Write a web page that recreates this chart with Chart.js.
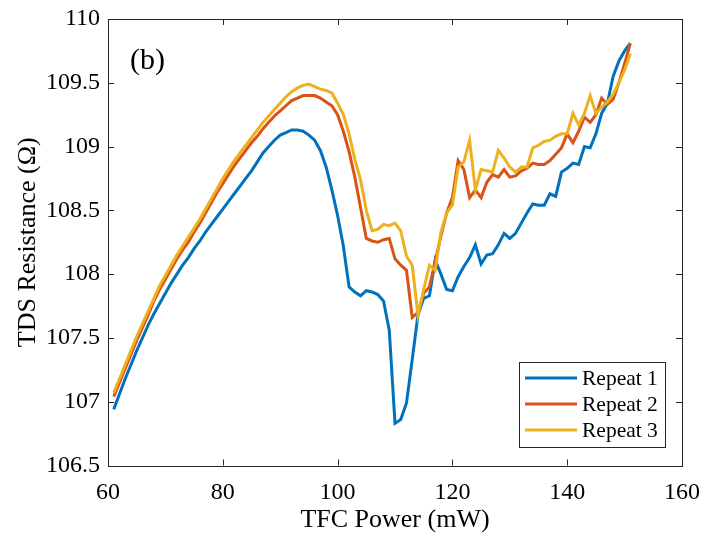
<!DOCTYPE html>
<html>
<head>
<meta charset="utf-8">
<script src="https://cdn.jsdelivr.net/npm/chart.js@4"></script>
<style>
  body { margin: 0; background: #fff; }
  .wrap { width: 702px; height: 533px; }
</style>
</head>
<body>
<div class="wrap"><canvas id="myChart"></canvas></div>
<script>
// TFC power (mW)
const power = [61,62,63,64,65,66,67,68,69,70,71,72,73,74,75,76,77,78,79,80,
  81,82,83,84,85,86,87,88,89,90,91,92,93,94,95,96,97,98,99,100,
  101,102,103,104,105,106,107,108,109,110,111,112,113,114,115,116,117,118,119,120,
  121,122,123,124,125,126,127,128,129,130,131,132,133,134,135,136,137,138,139,140,
  141,142,143,144,145,146,147,148,149,150,151];

// TDS resistance (ohm)
const repeat1 = [106.94,107.06,107.18,107.29,107.40,107.50,107.60,107.69,107.77,107.85,
  107.93,108.00,108.07,108.13,108.20,108.26,108.33,108.39,108.45,108.51,
  108.57,108.63,108.69,108.75,108.81,108.88,108.95,109.00,109.05,109.09,
  109.11,109.13,109.13,109.12,109.09,109.05,108.97,108.84,108.66,108.46,
  108.22,107.90,107.86,107.83,107.87,107.86,107.84,107.79,107.56,106.83,
  106.86,106.99,107.33,107.68,107.81,107.83,108.11,108.00,107.88,107.87,
  107.98,108.06,108.13,108.23,108.08,108.15,108.16,108.23,108.32,108.28,
  108.32,108.40,108.48,108.55,108.54,108.54,108.63,108.61,108.80,108.83,
  108.87,108.86,109.00,108.99,109.10,109.26,109.34,109.55,109.67,109.75,109.81];

const repeat2 = [107.04,107.15,107.26,107.37,107.48,107.58,107.68,107.79,107.88,107.96,
  108.04,108.12,108.19,108.25,108.33,108.40,108.48,108.56,108.64,108.71,
  108.78,108.85,108.91,108.97,109.03,109.08,109.14,109.19,109.24,109.28,
  109.32,109.36,109.38,109.40,109.40,109.40,109.38,109.35,109.32,109.25,
  109.12,108.96,108.76,108.52,108.28,108.26,108.25,108.27,108.28,108.12,
  108.07,108.03,107.66,107.70,107.85,107.90,108.10,108.30,108.48,108.60,
  108.89,108.82,108.60,108.66,108.60,108.72,108.78,108.76,108.82,108.76,
  108.77,108.81,108.83,108.87,108.86,108.86,108.89,108.94,108.99,109.10,
  109.03,109.12,109.23,109.19,109.25,109.38,109.33,109.37,109.50,109.65,109.81];

const repeat3 = [107.07,107.18,107.29,107.40,107.51,107.61,107.71,107.81,107.91,107.99,
  108.07,108.15,108.22,108.29,108.36,108.43,108.51,108.59,108.67,108.75,
  108.82,108.89,108.95,109.01,109.07,109.13,109.19,109.24,109.29,109.34,
  109.39,109.43,109.46,109.48,109.49,109.47,109.45,109.44,109.42,109.34,
  109.25,109.10,108.90,108.74,108.50,108.34,108.35,108.39,108.38,108.40,
  108.34,108.14,108.07,107.68,107.88,108.07,108.03,108.33,108.48,108.54,
  108.84,108.88,109.05,108.66,108.82,108.81,108.80,108.97,108.91,108.84,
  108.80,108.84,108.84,108.99,109.01,109.04,109.05,109.08,109.10,109.10,
  109.26,109.17,109.26,109.40,109.26,109.31,109.35,109.41,109.50,109.60,109.73];

const xTicks = [60, 80, 100, 120, 140, 160];
const yTicks = [106.5, 107, 107.5, 108, 108.5, 109, 109.5, 110];

const seriesNames = ['Repeat 1', 'Repeat 2', 'Repeat 3'];
const seriesColors = ['#0072BD', '#D95319', '#EDB120'];

const serif = "'Liberation Serif', 'Times New Roman', serif";
const axisColor = '#262626';

function pts(ys) {
  return power.map((p, i) => ({ x: p, y: ys[i] }));
}

// matlab style box with inward ticks, plus legend and panel tag
const boxPlugin = {
  id: 'box',
  afterDatasetsDraw(chart) {
    const c = chart.ctx;
    const a = chart.chartArea;
    const xs = chart.scales.x, ys = chart.scales.y;
    c.save();
    c.strokeStyle = axisColor;
    c.lineWidth = 1;
    c.strokeRect(Math.round(a.left) + 0.5, Math.round(a.top) + 0.5,
      Math.round(a.right - a.left), Math.round(a.bottom - a.top));
    c.beginPath();
    xTicks.forEach(v => {
      const px = Math.round(xs.getPixelForValue(v)) + 0.5;
      c.moveTo(px, a.bottom); c.lineTo(px, a.bottom - 6);
      c.moveTo(px, a.top); c.lineTo(px, a.top + 6);
    });
    yTicks.forEach(v => {
      const py = Math.round(ys.getPixelForValue(v)) + 0.5;
      c.moveTo(a.left, py); c.lineTo(a.left + 6, py);
      c.moveTo(a.right, py); c.lineTo(a.right - 6, py);
    });
    c.stroke();

    // legend
    const lx = 519.5, ly = 362.5, lw = 146, lh = 85;
    c.fillStyle = '#fff';
    c.fillRect(lx, ly, lw, lh);
    c.strokeRect(lx, ly, lw, lh);
    c.font = '21.5px ' + serif;
    c.textBaseline = 'middle';
    seriesNames.forEach((name, i) => {
      const y = 378 + i * 26;
      c.strokeStyle = seriesColors[i];
      c.lineWidth = 3;
      c.beginPath();
      c.moveTo(525, y); c.lineTo(577, y);
      c.stroke();
      c.fillStyle = '#000';
      c.fillText(name, 582, y + 1);
    });

    c.fillStyle = '#000';
    c.font = '30px ' + serif;
    c.textBaseline = 'alphabetic';
    c.fillText('(b)', 130, 69);
    c.restore();
  }
};

const ctx = document.getElementById('myChart').getContext('2d');
const myChart = new Chart(ctx, {
  type: 'line',
  data: {
    datasets: [
      { label: seriesNames[0], data: pts(repeat1), borderColor: seriesColors[0], order: 3 },
      { label: seriesNames[1], data: pts(repeat2), borderColor: seriesColors[1], order: 2 },
      { label: seriesNames[2], data: pts(repeat3), borderColor: seriesColors[2], order: 1 },
    ]
  },
  options: {
    responsive: true,
    maintainAspectRatio: false,
    animation: false,
    layout: { padding: { top: 19, right: 20, left: 0, bottom: 0 } },
    elements: {
      point: { radius: 0 },
      line: { borderWidth: 3, tension: 0, fill: false }
    },
    scales: {
      x: {
        type: 'linear',
        min: 60,
        max: 160,
        afterBuildTicks: s => { s.ticks = xTicks.map(v => ({ value: v })); },
        afterFit: s => { s.height = 67.5; s.paddingLeft = 0; s.paddingRight = 0; },
        grid: { display: false, drawTicks: false },
        border: { display: false },
        ticks: {
          color: '#000', padding: 13, maxRotation: 0,
          font: { family: serif, size: 24 },
          callback: v => String(v)
        },
        title: {
          display: true,
          text: 'TFC Power (mW)',
          color: '#000',
          padding: { top: 0, bottom: 0 },
          font: { family: serif, size: 26, lineHeight: 1 }
        }
      },
      y: {
        min: 106.5,
        max: 110,
        afterBuildTicks: s => { s.ticks = yTicks.map(v => ({ value: v })); },
        afterFit: s => { s.width = 108; s.paddingTop = 0; s.paddingBottom = 0; },
        grid: { display: false, drawTicks: false },
        border: { display: false },
        ticks: {
          color: '#000', padding: 8,
          font: { family: serif, size: 24 },
          callback: v => String(v)
        },
        title: {
          display: true,
          text: 'TDS Resistance (Ω)',
          color: '#000',
          padding: { top: 15, bottom: 0 },
          font: { family: serif, size: 26, lineHeight: 1 }
        }
      }
    },
    plugins: {
      legend: { display: false },
      tooltip: { enabled: false },
      title: { display: false }
    }
  },
  plugins: [boxPlugin]
});
</script>
</body>
</html>
